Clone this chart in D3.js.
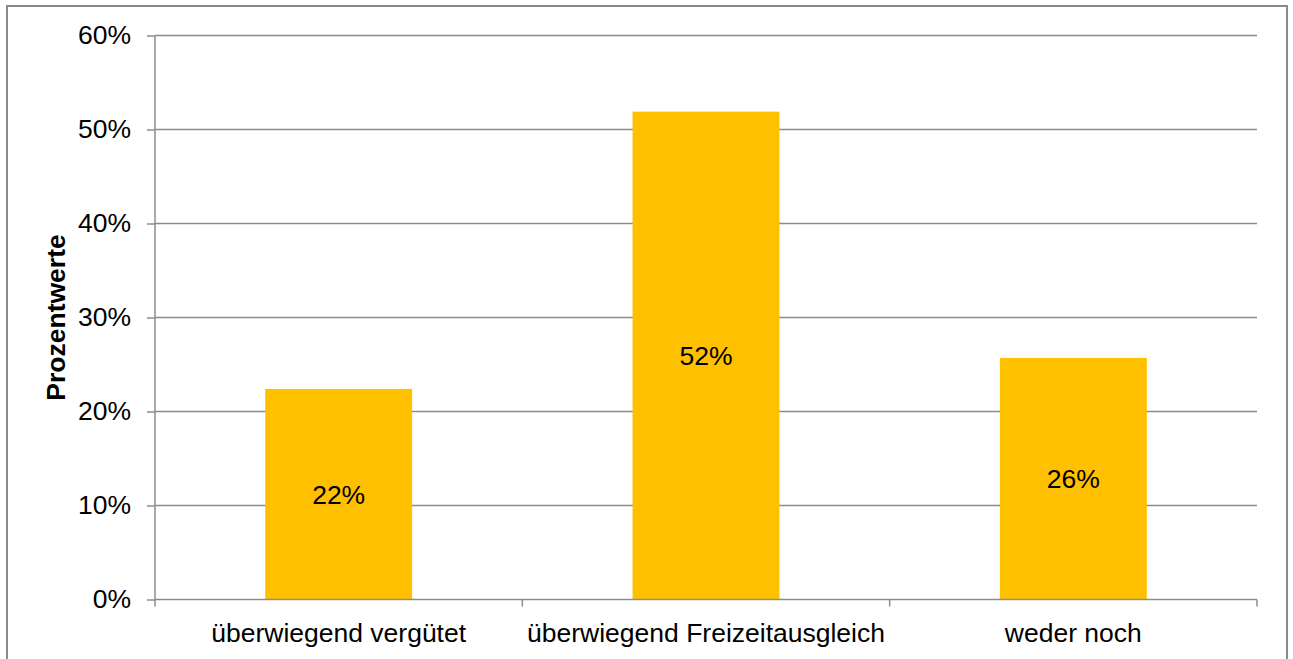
<!DOCTYPE html>
<html>
<head>
<meta charset="utf-8">
<script src="https://cdn.jsdelivr.net/npm/d3@7"></script>
<style>
  body { margin: 0; background: #fff; }
  text { font-family: "Liberation Sans", Arial, sans-serif; fill: #000; }
</style>
</head>
<body>
<div id="chart"></div>
<script>
// chart data
let categories = ["überwiegend vergütet", "überwiegend Freizeitausgleich", "weder noch"];
let values = [0.224, 0.519, 0.257];
let valueLabels = ["22%", "52%", "26%"];
let yTicks = [0, 0.1, 0.2, 0.3, 0.4, 0.5, 0.6];

let svgWidth = 1293;
let svgHeight = 659;
let fontSize = "26.5px";

let margin = { top: 35.5, right: 36, bottom: 59.5, left: 155 };
let width = svgWidth - margin.left - margin.right;
let height = svgHeight - margin.top - margin.bottom;

let svg = d3.select("#chart")
    .append("svg")
    .attr("width", svgWidth)
    .attr("height", svgHeight);

// outer frame
svg.append("rect")
    .attr("x", 7)
    .attr("y", 6)
    .attr("width", 1280)
    .attr("height", 670)
    .attr("fill", "none")
    .attr("stroke", "#8a8a8a")
    .attr("stroke-width", 2);

let chartGroup = svg.append("g")
    .attr("transform", `translate(${margin.left}, ${margin.top})`);

let xScale = d3.scaleBand()
    .domain(categories)
    .range([0, width])
    .paddingInner(0.6)
    .paddingOuter(0.3);

let yScale = d3.scaleLinear()
    .domain([0, 0.6])
    .range([height, 0]);

// gridlines
chartGroup.selectAll(".grid")
    .data(yTicks.slice(1))
    .enter()
    .append("line")
    .attr("class", "grid")
    .attr("x1", 0)
    .attr("x2", width)
    .attr("y1", d => yScale(d))
    .attr("y2", d => yScale(d))
    .attr("stroke", "#8c8c8c")
    .attr("stroke-width", 1.5);

// bars
chartGroup.selectAll(".bar")
    .data(values)
    .enter()
    .append("rect")
    .attr("class", "bar")
    .attr("x", (d, i) => xScale(categories[i]))
    .attr("y", d => yScale(d))
    .attr("width", xScale.bandwidth())
    .attr("height", d => height - yScale(d))
    .attr("fill", "#FFC000");

// value labels
chartGroup.selectAll(".valLabel")
    .data(values)
    .enter()
    .append("text")
    .attr("class", "valLabel")
    .attr("x", (d, i) => xScale(categories[i]) + xScale.bandwidth() / 2)
    .attr("y", d => (yScale(d) + height) / 2)
    .attr("dy", "0.36em")
    .attr("text-anchor", "middle")
    .attr("font-size", fontSize)
    .text((d, i) => valueLabels[i]);

// y axis
let leftAxis = d3.axisLeft(yScale)
    .tickValues(yTicks)
    .tickFormat(d3.format(".0%"))
    .tickSize(8)
    .tickPadding(16);

let yAxisG = chartGroup.append("g").call(leftAxis);
yAxisG.select(".domain").attr("stroke", "#8c8c8c").attr("stroke-width", 1.5).attr("d", `M0,0V${height}`);
yAxisG.selectAll(".tick line").attr("stroke", "#8c8c8c").attr("stroke-width", 1.5);
yAxisG.selectAll(".tick text")
    .attr("font-size", fontSize)
    .attr("font-family", "Liberation Sans, Arial, sans-serif")
    .attr("fill", "#000");

// x axis
let xAxisG = chartGroup.append("g")
    .attr("transform", `translate(0, ${height})`);

xAxisG.append("line")
    .attr("x1", 0)
    .attr("x2", width)
    .attr("stroke", "#8c8c8c")
    .attr("stroke-width", 1.5);

let boundaries = d3.range(categories.length + 1).map(i => i * xScale.step());
xAxisG.selectAll(".xtick")
    .data(boundaries)
    .enter()
    .append("line")
    .attr("class", "xtick")
    .attr("x1", d => d)
    .attr("x2", d => d)
    .attr("y1", 0)
    .attr("y2", 7)
    .attr("stroke", "#8c8c8c")
    .attr("stroke-width", 1.5);

xAxisG.selectAll(".xlabel")
    .data(categories)
    .enter()
    .append("text")
    .attr("class", "xlabel")
    .attr("x", d => xScale(d) + xScale.bandwidth() / 2)
    .attr("y", 42)
    .attr("text-anchor", "middle")
    .attr("font-size", fontSize)
    .text(d => d);

// axis title
svg.append("text")
    .attr("transform", `translate(65, ${margin.top + height / 2}) rotate(-90)`)
    .attr("text-anchor", "middle")
    .attr("font-size", fontSize)
    .attr("font-weight", "bold")
    .text("Prozentwerte");
</script>
</body>
</html>
